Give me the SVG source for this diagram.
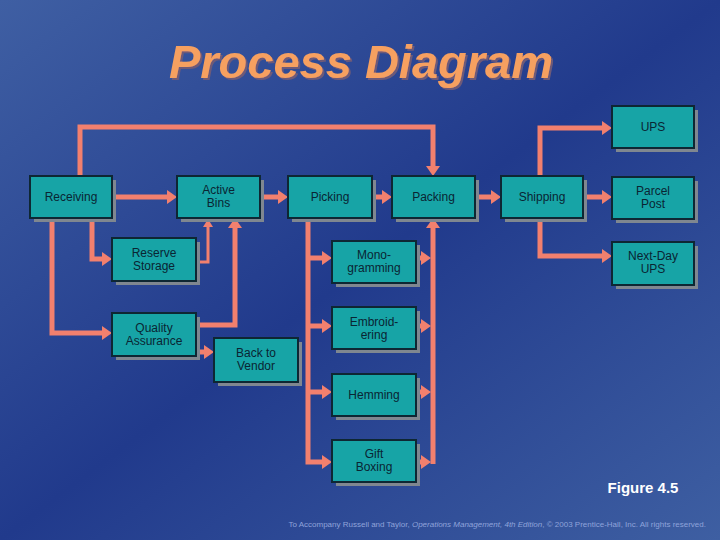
<svg xmlns="http://www.w3.org/2000/svg" width="720" height="540" viewBox="0 0 720 540">
<defs>
<linearGradient id="bg" x1="0" y1="0" x2="1" y2="1">
<stop offset="0" stop-color="#3F5FA3"/>
<stop offset="0.5" stop-color="#213A8C"/>
<stop offset="1" stop-color="#3E5FA2"/>
</linearGradient>
<filter id="tsh" x="-5%" y="-20%" width="110%" height="140%">
<feFlood flood-color="#6E5A78"/>
<feComposite in2="SourceAlpha" operator="in"/>
<feOffset dx="2" dy="2" result="s"/>
<feMerge><feMergeNode in="s"/><feMergeNode in="SourceGraphic"/></feMerge>
</filter>
<marker id="ah" markerUnits="userSpaceOnUse" markerWidth="12" markerHeight="14" refX="2" refY="7" orient="auto">
<path d="M0,0 L10,7 L0,14 z" fill="#F2806E"/>
</marker>
<marker id="ahs" markerUnits="userSpaceOnUse" markerWidth="10" markerHeight="10" refX="2" refY="5" orient="auto">
<path d="M0,0 L8,5 L0,10 z" fill="#F2806E"/>
</marker>
</defs>
<style>
.box{fill:#17A4A6;stroke:#0E2733;stroke-width:2}
.sh{fill:#7F8790}
.t{font-family:"Liberation Sans",Arial,sans-serif;font-size:12px;fill:#0A2533;text-anchor:middle}
.c{fill:none;stroke:#F2806E;stroke-width:5;marker-end:url(#ah)}
.cs{fill:none;stroke:#F2806E;stroke-width:3;marker-end:url(#ahs)}
</style>
<rect width="720" height="540" fill="url(#bg)"/>
<text x="361" y="78" filter="url(#tsh)" font-family="Liberation Sans,Arial,sans-serif" font-size="47" font-weight="bold" font-style="italic" fill="#F6A060" text-anchor="middle">Process Diagram</text>

<g id="connectors">
<path class="c" d="M112,197 H169"/>
<path class="c" d="M80,176 V127 H433 V168"/>
<path class="c" d="M260,197 H280"/>
<path class="c" d="M372,197 H384"/>
<path class="c" d="M475,197 H493"/>
<path class="c" d="M540,176 V128 H604"/>
<path class="c" d="M583,197 H604"/>
<path class="c" d="M540,218 V256 H604"/>
<path class="c" d="M92,218 V259 H104"/>
<path class="c" d="M52,218 V333 H104"/>
<path class="cs" d="M196,262 H208 V225"/>
<path class="c" d="M196,325 H235 V226"/>
<path class="c" d="M196,352 H206"/>
<path class="c" d="M308,218 V462 H324"/>
<path class="c" d="M308,258 H324"/>
<path class="c" d="M308,326 H324"/>
<path class="c" d="M308,392 H324"/>
<path class="c" d="M416,258 H423"/>
<path class="c" d="M416,326 H423"/>
<path class="c" d="M416,392 H423"/>
<path class="c" d="M416,462 H423"/>
<path class="c" d="M433,464 V226"/>
</g>

<g id="receiving"><rect class="sh" x="34" y="180" width="82" height="42"/><rect class="box" x="30" y="176" width="82" height="42"/><text class="t" x="71" y="201">Receiving</text></g>
<g id="active-bins"><rect class="sh" x="181" y="180" width="83" height="42"/><rect class="box" x="177" y="176" width="83" height="42"/><text class="t" x="218.5" y="194">Active</text><text class="t" x="218.5" y="207">Bins</text></g>
<g id="picking"><rect class="sh" x="292" y="180" width="84" height="42"/><rect class="box" x="288" y="176" width="84" height="42"/><text class="t" x="330" y="201">Picking</text></g>
<g id="packing"><rect class="sh" x="396" y="180" width="83" height="42"/><rect class="box" x="392" y="176" width="83" height="42"/><text class="t" x="433.5" y="201">Packing</text></g>
<g id="shipping"><rect class="sh" x="505" y="180" width="82" height="42"/><rect class="box" x="501" y="176" width="82" height="42"/><text class="t" x="542" y="201">Shipping</text></g>
<g id="ups"><rect class="sh" x="616" y="110" width="82" height="42"/><rect class="box" x="612" y="106" width="82" height="42"/><text class="t" x="653" y="131">UPS</text></g>
<g id="parcel-post"><rect class="sh" x="616" y="181" width="82" height="42"/><rect class="box" x="612" y="177" width="82" height="42"/><text class="t" x="653" y="195">Parcel</text><text class="t" x="653" y="208">Post</text></g>
<g id="next-day-ups"><rect class="sh" x="616" y="246" width="82" height="43"/><rect class="box" x="612" y="242" width="82" height="43"/><text class="t" x="653" y="260">Next-Day</text><text class="t" x="653" y="273">UPS</text></g>
<g id="reserve-storage"><rect class="sh" x="116" y="242" width="84" height="43"/><rect class="box" x="112" y="238" width="84" height="43"/><text class="t" x="154" y="257">Reserve</text><text class="t" x="154" y="270">Storage</text></g>
<g id="quality-assurance"><rect class="sh" x="116" y="317" width="84" height="43"/><rect class="box" x="112" y="313" width="84" height="43"/><text class="t" x="154" y="332">Quality</text><text class="t" x="154" y="345">Assurance</text></g>
<g id="back-to-vendor"><rect class="sh" x="218" y="342" width="84" height="44"/><rect class="box" x="214" y="338" width="84" height="44"/><text class="t" x="256" y="357">Back to</text><text class="t" x="256" y="370">Vendor</text></g>
<g id="monogramming"><rect class="sh" x="336" y="245" width="84" height="42"/><rect class="box" x="332" y="241" width="84" height="42"/><text class="t" x="374" y="259">Mono-</text><text class="t" x="374" y="272">gramming</text></g>
<g id="embroidering"><rect class="sh" x="336" y="311" width="84" height="42"/><rect class="box" x="332" y="307" width="84" height="42"/><text class="t" x="374" y="326">Embroid-</text><text class="t" x="374" y="339">ering</text></g>
<g id="hemming"><rect class="sh" x="336" y="378" width="84" height="42"/><rect class="box" x="332" y="374" width="84" height="42"/><text class="t" x="374" y="399">Hemming</text></g>
<g id="gift-boxing"><rect class="sh" x="336" y="444" width="84" height="42"/><rect class="box" x="332" y="440" width="84" height="42"/><text class="t" x="374" y="458">Gift</text><text class="t" x="374" y="471">Boxing</text></g>

<text x="643" y="493" font-family="Liberation Sans,Arial,sans-serif" font-size="15" font-weight="bold" fill="#FFFFFF" text-anchor="middle">Figure 4.5</text>
<text x="706" y="527" font-family="Liberation Sans,Arial,sans-serif" font-size="8" fill="#8FA3DA" text-anchor="end">To Accompany Russell and Taylor, <tspan font-style="italic">Operations Management, 4th Edition</tspan>, © 2003 Prentice-Hall, Inc. All rights reserved.</text>
</svg>
